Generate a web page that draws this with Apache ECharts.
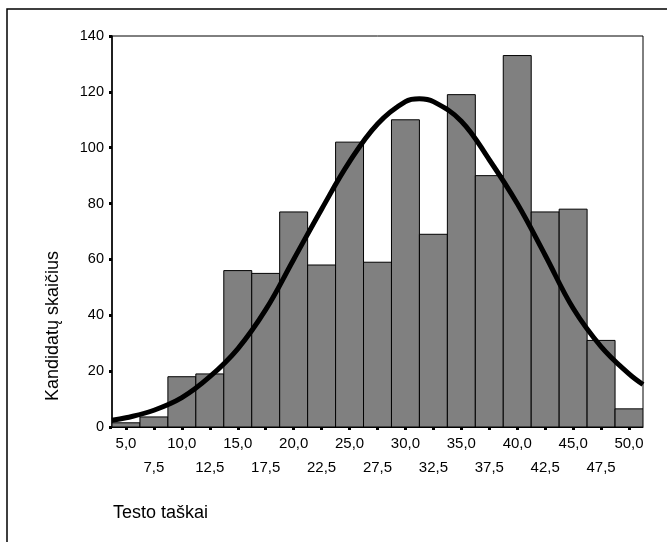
<!DOCTYPE html>
<html>
<head>
<meta charset="utf-8">
<script src="https://cdn.jsdelivr.net/npm/echarts@6/dist/echarts.min.js"></script>
<style>
html,body{margin:0;padding:0;background:#fff;}
#chart{width:667px;height:542px;}
</style>
</head>
<body>
<div id="chart"></div>
<script>
// Histogram bins (centres) and counts
const binCentres = [5, 7.5, 10, 12.5, 15, 17.5, 20, 22.5, 25, 27.5, 30, 32.5, 35, 37.5, 40, 42.5, 45, 47.5, 50];
const binCounts  = [1.5, 3.6, 18, 19, 56, 55, 77, 58, 102, 59, 110, 69, 119, 90, 133, 77, 78, 31, 6.5];
const binWidth = 2.5;

// Normal curve
const curveX = [3.75, 5, 7.5, 10, 12.5, 15, 17.5, 20, 22.5, 25, 27.5, 30, 31.25, 32.5, 35, 37.5, 40, 42.5, 45, 47.5, 50, 51.25];
const curveY = [2.4, 3.3, 6, 10.5, 18, 28, 42, 60, 78, 95, 108.5, 116.5, 117.5, 116.5, 109.5, 95.7, 80, 61.5, 42.5, 28.8, 19, 15.2];

// Axis tick labels (two staggered rows)
const xTickValues = [5, 7.5, 10, 12.5, 15, 17.5, 20, 22.5, 25, 27.5, 30, 32.5, 35, 37.5, 40, 42.5, 45, 47.5, 50];
const xLabelsRow1 = [5, 10, 15, 20, 25, 30, 35, 40, 45, 50];
const xLabelsRow2 = [7.5, 12.5, 17.5, 22.5, 27.5, 32.5, 37.5, 42.5, 47.5];
const yTicks = [0, 20, 40, 60, 80, 100, 120, 140];

const xTitle = 'Testo taškai';
const yTitle = 'Kandidatų skaičius';

const FONT = 'Liberation Sans, Arial, sans-serif';
const fmt = v => v.toFixed(1).replace('.', ',');

const chart = echarts.init(document.getElementById('chart'), null, {renderer: 'canvas'});

const labelStyle = {
  showMinLabel: true,
  showMaxLabel: true,
  hideOverlap: false,
  color: '#000',
  fontFamily: FONT,
  fontSize: 15,
  formatter: fmt
};

const option = {
  animation: false,
  backgroundColor: '#fff',
  grid: {left: 112, right: 24, top: 36, bottom: 115, show: true, borderColor: '#000', borderWidth: 1, backgroundColor: 'transparent'},
  xAxis: [
    {
      type: 'value',
      min: 3.75,
      max: 51.25,
      position: 'bottom',
      splitLine: {show: false},
      axisLine: {show: true, lineStyle: {color: '#000', width: 1}},
      axisTick: {show: true, customValues: xTickValues, length: 3, lineStyle: {color: '#000', width: 3}},
      axisLabel: Object.assign({customValues: xLabelsRow1, margin: 9}, labelStyle)
    },
    {
      type: 'value',
      min: 3.75,
      max: 51.25,
      position: 'bottom',
      offset: 0,
      splitLine: {show: false},
      axisLine: {show: false},
      axisTick: {show: false},
      axisLabel: Object.assign({customValues: xLabelsRow2, margin: 33}, labelStyle)
    }
  ],
  yAxis: {
    type: 'value',
    min: yTicks[0],
    max: yTicks[yTicks.length - 1],
    interval: 20,
    splitLine: {show: false},
    axisLine: {show: true, lineStyle: {color: '#000', width: 1.5}},
    axisTick: {show: true, length: 3, lineStyle: {color: '#000', width: 3}},
    axisLabel: {showMinLabel: true, showMaxLabel: true, margin: 8, color: '#000', fontFamily: FONT, fontSize: 14.5}
  },
  graphic: [
    {type: 'rect', shape: {x: 7, y: 9, width: 700, height: 600}, style: {fill: 'none', stroke: '#000', lineWidth: 1.5}, silent: true, z: -1},
    {type: 'text', left: 113, top: 504, style: {text: xTitle, font: '18px ' + FONT, fill: '#000'}},
    {type: 'text', x: 44, y: 401, rotation: Math.PI / 2, style: {text: yTitle, font: '18px ' + FONT, fill: '#000'}}
  ],
  series: [
    {
      type: 'custom',
      xAxisIndex: 0,
      data: binCentres.map((c, i) => [c, binCounts[i]]),
      clip: true,
      renderItem: function (params, api) {
        const x = api.value(0), y = api.value(1);
        const p1 = api.coord([x - binWidth / 2, y]);
        const p2 = api.coord([x + binWidth / 2, 0]);
        return {
          type: 'rect',
          shape: {x: p1[0], y: p1[1], width: p2[0] - p1[0], height: p2[1] - p1[1]},
          style: {fill: '#808080', stroke: '#000', lineWidth: 1}
        };
      },
      z: 2
    },
    {
      type: 'line',
      xAxisIndex: 0,
      data: curveX.map((x, i) => [x, curveY[i]]),
      smooth: 0.4,
      showSymbol: false,
      symbol: 'none',
      lineStyle: {color: '#000', width: 5},
      z: 3
    }
  ]
};
chart.setOption(option);
</script>
</body>
</html>
